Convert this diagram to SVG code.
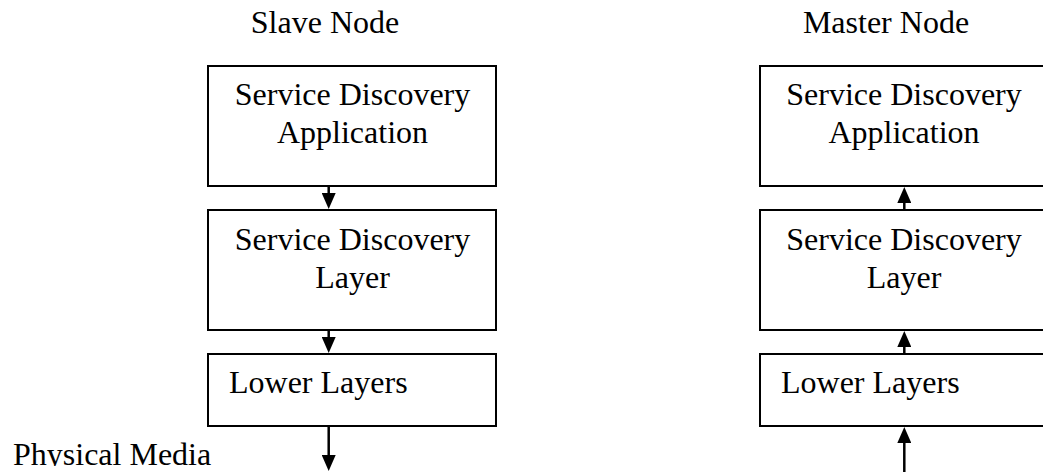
<svg xmlns="http://www.w3.org/2000/svg" width="1043" height="472" viewBox="0 0 1043 472">
<style>
  text { font-family: "Liberation Serif", "Times New Roman", serif; font-size: 32px; fill: #000; }
  .box { fill: #fff; stroke: #000; stroke-width: 2; }
  .conn { stroke: #000; stroke-width: 2.5; fill: none; marker-end: url(#ah); }
</style>
<defs>
  <marker id="ah" markerUnits="userSpaceOnUse" markerWidth="16" markerHeight="14" refX="1" refY="7" orient="auto" viewBox="0 0 16 14">
    <path d="M0,0 L16,7 L0,14 Z" fill="#000"/>
  </marker>
  <clipPath id="clipBottom"><rect x="0" y="0" width="1043" height="466"/></clipPath>
</defs>
<rect width="1043" height="472" fill="#fff"/>

<g id="label-slave"><text x="325" y="33" text-anchor="middle">Slave Node</text></g>
<g id="label-master"><text x="886" y="33" text-anchor="middle">Master Node</text></g>
<g id="label-physical"><text x="13" y="465" clip-path="url(#clipBottom)">Physical Media</text></g>

<g id="slave-app">
  <rect class="box" x="208" y="66" width="288" height="120"/>
  <text x="352.5" y="105" text-anchor="middle">Service Discovery</text>
  <text x="352.5" y="143" text-anchor="middle">Application</text>
</g>
<g id="slave-sdl">
  <rect class="box" x="208" y="210" width="288" height="120"/>
  <text x="352.5" y="250" text-anchor="middle">Service Discovery</text>
  <text x="352.5" y="288" text-anchor="middle">Layer</text>
</g>
<g id="slave-lower">
  <rect class="box" x="208" y="354" width="288" height="72"/>
  <text x="229" y="393">Lower Layers</text>
</g>

<g id="master-app">
  <rect class="box" x="760" y="66" width="290" height="120"/>
  <text x="904" y="105" text-anchor="middle">Service Discovery</text>
  <text x="904" y="143" text-anchor="middle">Application</text>
</g>
<g id="master-sdl">
  <rect class="box" x="760" y="210" width="290" height="120"/>
  <text x="904" y="250" text-anchor="middle">Service Discovery</text>
  <text x="904" y="288" text-anchor="middle">Layer</text>
</g>
<g id="master-lower">
  <rect class="box" x="760" y="354" width="290" height="72"/>
  <text x="781" y="393">Lower Layers</text>
</g>

<g id="connectors">
  <line class="conn" x1="328.7" y1="187" x2="328.7" y2="194"/>
  <line class="conn" x1="328.7" y1="331" x2="328.7" y2="338"/>
  <line class="conn" x1="328.7" y1="427" x2="328.7" y2="456"/>
  <line class="conn" x1="904.3" y1="209" x2="904.3" y2="202"/>
  <line class="conn" x1="904.3" y1="353" x2="904.3" y2="346"/>
  <line class="conn" x1="904.3" y1="472" x2="904.3" y2="442"/>
</g>
</svg>
